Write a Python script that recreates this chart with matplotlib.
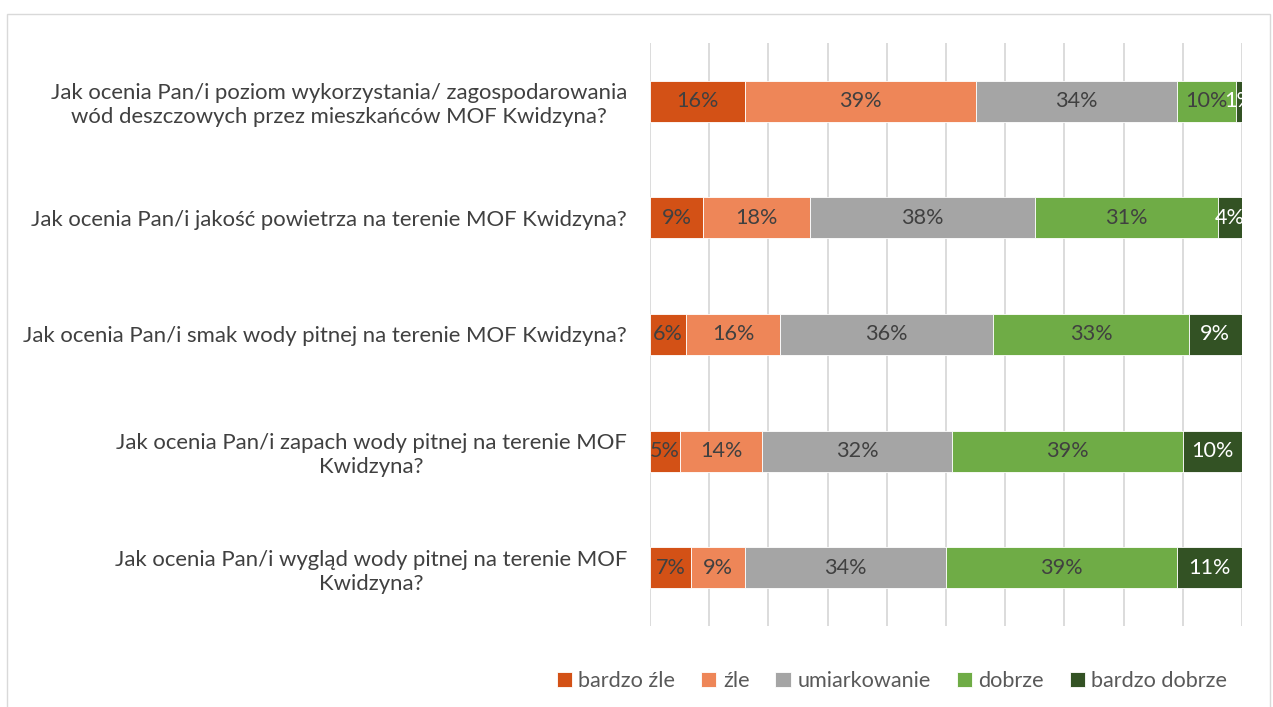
import matplotlib
matplotlib.use("Agg")
import matplotlib.pyplot as plt
from matplotlib.patches import Rectangle

plt.rcParams['font.family'] = ['Lato', 'DejaVu Sans']

# Dane
pytania = [
    "Jak ocenia Pan/i poziom wykorzystania/ zagospodarowania\nwód deszczowych przez mieszkańców MOF Kwidzyna?",
    "Jak ocenia Pan/i jakość powietrza na terenie MOF Kwidzyna?",
    "Jak ocenia Pan/i smak wody pitnej na terenie MOF Kwidzyna?",
    "Jak ocenia Pan/i zapach wody pitnej na terenie MOF\nKwidzyna?",
    "Jak ocenia Pan/i wygląd wody pitnej na terenie MOF\nKwidzyna?",
]
kategorie = ["bardzo źle", "źle", "umiarkowanie", "dobrze", "bardzo dobrze"]
bardzo_zle = [16, 9, 6, 5, 7]
zle = [39, 18, 16, 14, 9]
umiarkowanie = [34, 38, 36, 32, 34]
dobrze = [10, 31, 33, 39, 39]
bardzo_dobrze = [1, 4, 9, 10, 11]

kolory = ["#D35116", "#EE8658", "#A5A5A5", "#6FAC46", "#335224"]
kolory_tekstu = ["#404040", "#404040", "#404040", "#404040", "#FFFFFF"]

serie = [bardzo_zle, zle, umiarkowanie, dobrze, bardzo_dobrze]
FS = 15.6

fig = plt.figure(figsize=(12.73, 7.07), dpi=100)
ax = fig.add_axes([650 / 1273, 1 - 626 / 707, 592 / 1273, 583 / 707])

# ramka wokół wykresu
fig.patches.append(Rectangle((7 / 1273, -0.01), 1263 / 1273, 1 - 14 / 707 + 0.01,
                             transform=fig.transFigure, fill=False,
                             edgecolor="#D9D9D9", linewidth=1.0))

y = list(range(len(pytania)))
lewo = [0] * len(pytania)
for seria, nazwa, kolor, kt in zip(serie, kategorie, kolory, kolory_tekstu):
    bary = ax.barh(y, seria, left=lewo, height=0.35, color=kolor, label=nazwa,
                   edgecolor="white", linewidth=0.6, zorder=3)
    for b, v in zip(bary, seria):
        ax.text(b.get_x() + b.get_width() / 2, b.get_y() + b.get_height() / 2,
                f"{v}%", ha="center", va="center", color=kt, fontsize=FS, zorder=4)
    lewo = [a + b for a, b in zip(lewo, seria)]

ax.set_xlim(0, 100)
ax.set_ylim(len(pytania) - 0.5, -0.5)
ax.set_xticks(range(0, 101, 10))
ax.tick_params(axis="x", length=0, labelbottom=False)
ax.tick_params(axis="y", length=0, pad=16.5)
ax.set_yticks(y)
ax.set_yticklabels(pytania, fontsize=15.9, color="#404040", ha="right",
                   multialignment="center", linespacing=1.25)
ax.grid(axis="x", color="#D9D9D9", linewidth=1.3, zorder=0)
for s in ax.spines.values():
    s.set_visible(False)

fig.legend(loc="center", bbox_to_anchor=(892 / 1273, 1 - 681 / 707), ncol=5,
           frameon=False, fontsize=FS, handlelength=0.7, handleheight=0.7,
           handletextpad=0.3, columnspacing=1.2, labelcolor="#595959")

fig.savefig("out.png", dpi=100)
